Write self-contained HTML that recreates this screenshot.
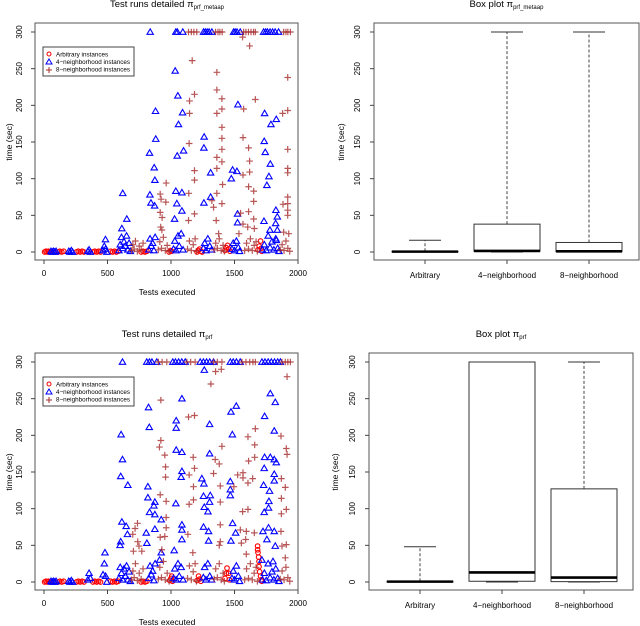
<!DOCTYPE html>
<html><head><meta charset="utf-8">
<style>
html,body{margin:0;padding:0;background:#fff;}
svg{display:block;font-family:"Liberation Sans",sans-serif;}
</style></head>
<body>
<svg id="c" width="640" height="626" viewBox="0 0 640 626"></svg>
<script>
// ---------- data: top scatter (pi_prf_metaap) ----------
const topArb = [[5,0],[15,1],[25,0],[35,1],[45,0],[110,0],[125,1],[140,0],[155,1],[255,0],[270,1],[285,0],[300,1],[315,0],[385,0],[400,1],[415,0],[430,1],[445,0],[525,1],[540,0],[555,1],[570,0],[585,1],[765,0],[780,1],[795,0],[810,1],[985,0],[995,2],[1005,1],[1205,0],[1215,2],[1225,4],[1235,1],[1245,0],[1425,2],[1435,6],[1445,9],[1455,4],[1465,1],[1685,3],[1695,8],[1705,15],[1710,5],[1715,1]];
const topN4 = [[836,300],[1038,300],[1050,300],[1093,300],[1256,300],[1270,300],[1285,300],[1300,300],[1322,300],[1493,300],[1505,300],[1520,300],[1545,300],[1729,300],[1745,300],[1760,300],[1780,300],[1800,300],[1820,300],[1847,300],
[1033,247],[1054,213],[1059,174],[878,192],[880,154],[831,135],[1091,190],[1099,138],[1049,131],[1261,157],[1259,142],[1312,108],[1527,201],[1737,189],[1734,151],[1742,136],[1787,174],[1829,181],[1782,120],[1771,103],[1485,112],[1519,110],[868,115],[620,80],[652,45],[613,32],[873,98],[834,78],[1038,83],[1086,81],[1028,45],[1086,56],[1524,52],[1524,40],[1732,42],[1779,30],[1826,57],[1837,48],[1824,39],[484,17],[871,63],[842,67],[1312,75],[1259,67],[1046,66],[1475,100],[1755,91],[1837,30],[1829,16],
[55,1],[65,0],[75,1],[85,0],[95,1],[195,1],[205,0],[215,2],[225,0],[345,1],[355,3],[365,0],[465,2],[475,8],[485,4],[495,0],[590,2],[600,10],[610,20],[620,5],[630,14],[640,8],[650,22],[660,3],[670,12],[680,1],[825,3],[835,18],[845,8],[855,12],[865,2],[875,20],[1020,4],[1030,15],[1040,2],[1055,22],[1065,8],[1080,25],[1095,3],[1255,5],[1265,12],[1275,2],[1290,18],[1305,8],[1320,3],[1480,4],[1490,12],[1500,2],[1515,15],[1530,6],[1540,1],[1720,3],[1735,10],[1750,2],[1765,22],[1780,6],[1795,14],[1810,3],[1825,18],[1840,5],[1850,1]];
const topN8 = [[1138,300],[1160,300],[1180,300],[1203,300],[1351,300],[1370,300],[1385,300],[1403,300],[1572,300],[1590,300],[1610,300],[1630,300],[1650,300],[1664,300],[1887,300],[1905,300],[1920,300],[1940,300],
[1167,261],[1361,245],[1619,281],[1564,293],[1146,206],[1185,215],[1146,189],[1361,221],[1361,189],[1401,209],[1401,195],[1401,170],[1401,155],[1401,140],[1401,123],[1361,129],[1361,114],[1664,208],[1572,195],[1611,142],[1619,124],[1619,109],[1567,156],[1567,105],[1611,89],[1651,83],[1651,69],[1611,55],[1651,45],[1919,193],[1919,238],[1879,189],[1919,140],[1919,114],[1919,108],[1919,75],[1919,66],[1919,57],[1882,65],[1919,50],[1143,148],[1185,111],[1185,98],[1185,52],[1140,80],[962,94],[915,79],[922,72],[959,68],[915,54],[930,47],[919,34],[928,30],[1138,43],[1361,80],[1406,92],[1401,66],[1356,43],[1322,70],[1335,61],[1375,25],[1548,53],[1567,38],[1604,34],[1656,32],[1535,25],[1887,27],[1927,25],
[690,2],[700,10],[710,4],[720,15],[735,1],[750,8],[765,3],[780,12],[900,3],[912,14],[925,5],[940,20],[955,2],[970,9],[985,1],[1130,4],[1145,15],[1160,2],[1175,10],[1190,18],[1200,1],[1340,3],[1352,12],[1365,5],[1380,18],[1395,2],[1410,9],[1420,1],[1580,2],[1595,12],[1610,4],[1625,18],[1640,2],[1655,9],[1670,14],[1680,1],[1860,3],[1875,10],[1890,2],[1905,15],[1920,5],[1935,1]];
// ---------- data: bottom scatter (pi_prf) ----------
const botArb = [[5,0],[15,1],[25,0],[35,1],[45,0],[110,0],[125,1],[140,0],[155,1],[255,0],[270,1],[285,0],[300,1],[315,0],[385,0],[400,1],[415,0],[430,1],[445,0],[525,1],[540,0],[555,1],[570,0],[585,1],[765,0],[780,1],[795,0],[810,1],[990,2],[1000,5],[1006,8],[1012,1],[1205,2],[1217,8],[1225,4],[1235,1],[1425,5],[1435,12],[1441,19],[1454,12],[1460,3],[1682,49],[1682,44],[1685,40],[1690,34],[1693,28],[1693,21],[1698,14],[1705,8],[1710,3],[1715,1]];
const botN4 = [[618,300],[809,300],[830,300],[850,300],[888,300],[1014,300],[1035,300],[1060,300],[1085,300],[1112,300],[1230,300],[1255,300],[1280,300],[1305,300],[1335,300],[1467,300],[1490,300],[1515,300],[1545,300],[1716,300],[1740,300],[1765,300],[1790,300],[1815,300],[1840,300],[1861,300],
[652,267],[1262,289],[607,201],[618,167],[604,144],[660,132],[613,82],[647,76],[657,65],[604,55],[599,50],[923,85],[923,40],[910,30],[823,238],[829,211],[818,130],[818,115],[831,95],[873,109],[865,104],[873,92],[873,72],[805,67],[810,53],[1038,107],[1041,220],[1041,210],[1041,180],[1086,250],[1086,177],[1086,151],[1080,143],[1086,78],[1086,71],[1086,58],[1025,43],[1304,215],[1304,175],[1243,141],[1259,134],[1309,118],[1256,117],[1304,109],[1291,96],[1262,102],[1256,75],[1296,69],[1296,56],[1472,232],[1514,240],[1483,201],[1467,137],[1467,126],[1467,118],[1485,80],[1472,56],[1509,67],[1737,226],[1782,257],[1821,245],[1813,206],[1734,155],[1813,167],[1829,163],[1813,147],[1813,138],[1729,132],[1776,124],[1737,170],[1782,170],[1771,110],[1734,95],[1768,101],[1768,74],[1813,69],[1724,69],[1755,58],[1821,49],[1803,28],[1716,30],
[55,1],[65,0],[75,1],[85,0],[95,1],[195,1],[205,0],[215,2],[225,0],[345,3],[355,12],[365,5],[465,10],[475,25],[480,40],[485,8],[495,0],[590,5],[600,20],[610,12],[620,3],[630,18],[640,8],[650,22],[660,3],[670,14],[680,1],[825,5],[835,22],[845,10],[855,15],[865,2],[875,25],[1020,5],[1030,18],[1040,3],[1055,25],[1065,8],[1080,20],[1095,3],[1255,6],[1265,20],[1275,3],[1290,25],[1305,8],[1320,3],[1480,5],[1490,15],[1500,3],[1515,22],[1530,8],[1540,1],[1720,3],[1735,12],[1750,2],[1765,25],[1780,6],[1795,14],[1810,3],[1825,18],[1840,5],[1850,1]];
const botN8 = [[901,300],[930,300],[967,300],[1125,300],[1155,300],[1190,300],[1335,300],[1365,300],[1401,300],[1559,300],[1590,300],[1620,300],[1645,300],[1664,300],[1874,300],[1900,300],[1920,300],[1940,300],
[1314,270],[1351,287],[1396,290],[1914,280],[920,248],[1138,225],[1185,227],[920,193],[909,184],[951,173],[957,157],[957,143],[915,119],[962,110],[962,88],[962,74],[951,62],[915,61],[928,44],[1175,170],[1185,155],[1143,146],[1177,130],[1177,112],[1143,106],[1133,65],[1172,40],[1348,167],[1401,185],[1380,161],[1335,148],[1388,131],[1388,109],[1388,78],[1388,55],[1380,50],[1606,135],[1611,165],[1606,198],[1664,209],[1659,187],[1659,170],[1643,141],[1567,149],[1567,142],[1564,96],[1606,99],[1546,71],[1593,69],[1588,58],[1554,53],[1593,38],[1656,67],[1866,199],[1908,182],[1914,174],[1869,141],[1900,129],[1869,114],[1869,93],[1908,99],[1866,69],[1908,51],[1874,49],[1900,33],[1525,146],[1495,130],[736,80],[699,65],[717,73],[704,42],[738,55],[748,49],[770,42],
[690,3],[700,15],[710,6],[720,25],[735,2],[750,12],[765,4],[780,18],[900,4],[912,20],[925,6],[940,28],[955,3],[970,12],[985,1],[1130,5],[1145,22],[1160,3],[1175,14],[1190,25],[1200,1],[1340,4],[1352,18],[1365,6],[1380,25],[1395,3],[1410,12],[1420,1],[1580,3],[1595,18],[1610,5],[1625,25],[1640,3],[1655,12],[1670,20],[1680,1],[1860,4],[1875,15],[1890,3],[1905,20],[1920,6],[1935,1]];
// ---------- data: box plots ----------
const boxCats = ["Arbitrary","4\u2212neighborhood","8\u2212neighborhood"];
const topBoxMin = [0,0,0], topBoxQ1 = [0,1,0.5], topBoxMed = [0.5,1.5,1], topBoxQ3 = [1,38,13], topBoxMax = [16,300,300];
const botBoxMin = [0,0,0], botBoxQ1 = [0,1,0.5], botBoxMed = [0.5,13,6], botBoxQ3 = [1,300,127], botBoxMax = [48,300,300];
const yTicks = [0,50,100,150,200,250,300];
const xTicks = [0,500,1000,1500,2000];

const NS="http://www.w3.org/2000/svg";
const svg=document.getElementById('c');
function mk(tag,attrs,parent){const e=document.createElementNS(NS,tag);for(const k in attrs)e.setAttribute(k,attrs[k]);(parent||svg).appendChild(e);return e;}
function txt(x,y,s,size,anchor,rot,parent){const t=mk('text',{x:x,y:y,'font-size':size,'text-anchor':anchor||'middle',fill:'#000'},parent);if(rot)t.setAttribute('transform','rotate(-90 '+x+' '+y+')');t.textContent=s;return t;}

function yAxis(g,left,y,labX){
  for(const v of yTicks){const py=y(v);mk('line',{x1:left-4,x2:left,y1:py,y2:py,stroke:'#444'},g);txt(labX,py,String(v),8,'middle',true,g);}
}
function title(g,cx,cy,main,sub){
  const t=mk('text',{x:cx,y:cy,'font-size':9.5,'text-anchor':'middle'},g);
  
  
  const a=document.createElementNS(NS,'tspan');a.textContent=main+' \u03c0';t.appendChild(a);
  const b=document.createElementNS(NS,'tspan');b.setAttribute('font-size','6');b.setAttribute('dy','2');b.textContent=sub;t.appendChild(b);
}

function scatter(oy,arb,n4,n8,sub,name){
  const g=mk('g',{});
  
  
  const L=35,R=298,T=oy+23,B=oy+260;
  const x=v=>44+v*(254/2000);
  const y=v=>oy+252-v*(220/300);
  title(g,167,oy+7,'Test runs detailed',sub);
  mk('rect',{x:L,y:T,width:R-L,height:B-T,fill:'none',stroke:'#555'},g);
  yAxis(g,L,y,22);
  for(const v of xTicks){const px=x(v);mk('line',{x1:px,x2:px,y1:B,y2:B+4,stroke:'#444'},g);txt(px,oy+276,String(v),8,'middle',false,g);}
  const xl=txt(167,oy+295,'Tests executed',8.5,'middle',false,g);
  
  const yl=txt(12,oy+142,'time (sec)',8.5,'middle',true,g);
  
  const pts=mk('g',{},g);
  for(const p of arb){const c=mk('circle',{cx:x(p[0]),cy:y(p[1]),r:2.3,fill:'none',stroke:'#ff0000','stroke-width':1.1},pts);
    }
  for(const p of n4){const px=x(p[0]),py=y(p[1]);
    const t=mk('polygon',{points:(px-3.2)+','+(py+2.3)+' '+(px+3.2)+','+(py+2.3)+' '+px+','+(py-3.2),fill:'none',stroke:'#0000ff','stroke-width':1.1},pts);
    }
  for(const p of n8){const px=x(p[0]),py=y(p[1]);
    const t=mk('path',{d:'M'+(px-3.3)+' '+py+'h6.6M'+px+' '+(py-3.3)+'v6.6',stroke:'#a52a2a','stroke-opacity':0.8,'stroke-width':1.2},pts);
    }
  const lg=mk('g',{},g);
  
  const ly=oy+47;
  mk('rect',{x:43,y:ly,width:91,height:29,fill:'#fff',stroke:'#444'},lg);
  mk('circle',{cx:49,cy:ly+7,r:2,fill:'none',stroke:'#ff0000'},lg);
  mk('polygon',{points:'46,'+(ly+17)+' 52,'+(ly+17)+' 49,'+(ly+12),fill:'none',stroke:'#0000ff'},lg);
  mk('path',{d:'M46 '+(ly+23)+'h6M49 '+(ly+20)+'v6',stroke:'#a52a2a'},lg);
  txt(56,ly+9.5,'Arbitrary instances',6.3,'start',false,lg);
  txt(56,ly+17,'4\u2212neighborhood instances',6.3,'start',false,lg);
  txt(56,ly+24.5,'8\u2212neighborhood instances',6.3,'start',false,lg);
}

function boxplot(oy,L,R,cx0,mn,q1,md,q3,mx,sub,name,ylabX,tickX){
  const g=mk('g',{});
  
  
  const T=oy+23,B=oy+260;
  const y=v=>oy+252-v*(220/300);
  const cx=i=>cx0+i*82;
  title(g,(L+R)/2,oy+7,'Box plot',sub);
  mk('rect',{x:L,y:T,width:R-L,height:B-T,fill:'none',stroke:'#555'},g);
  yAxis(g,L,y,tickX);
  const yl=txt(ylabX,oy+142,'time (sec)',8.5,'middle',true,g);
  
  for(let i=0;i<boxCats.length;i++){
    const c=cx(i),w=33;
    mk('line',{x1:c,x2:c,y1:B,y2:B+4,stroke:'#444'},g);
    const lt=txt(c,oy+278,boxCats[i],8,'middle',false,g);
    
    const bg=mk('g',{},g);
    
    mk('line',{x1:c,x2:c,y1:y(q3[i]),y2:y(mx[i]),stroke:'#444','stroke-dasharray':'3,2'},bg);
    mk('line',{x1:c,x2:c,y1:y(q1[i]),y2:y(mn[i]),stroke:'#444','stroke-dasharray':'3,2'},bg);
    mk('line',{x1:c-16,x2:c+16,y1:y(mx[i]),y2:y(mx[i]),stroke:'#333'},bg);
    mk('line',{x1:c-16,x2:c+16,y1:y(mn[i]),y2:y(mn[i]),stroke:'#333'},bg);
    mk('rect',{x:c-w,y:y(q3[i]),width:2*w,height:Math.max(0.5,y(q1[i])-y(q3[i])),fill:'#fff',stroke:'#333'},bg);
    mk('line',{x1:c-w,x2:c+w,y1:y(md[i]),y2:y(md[i]),stroke:'#000','stroke-width':2.6},bg);
  }
}

scatter(0,topArb,topN4,topN8,'prf_metaap','scatter-prf-metaap');
scatter(330,botArb,botN4,botN8,'prf','scatter-prf');
boxplot(0,374,639,425,topBoxMin,topBoxQ1,topBoxMed,topBoxQ3,topBoxMax,'prf_metaap','boxplot-prf-metaap',344,360);
boxplot(330,369,633,420,botBoxMin,botBoxQ1,botBoxMed,botBoxQ3,botBoxMax,'prf','boxplot-prf',338,355);
</script>
</body></html>
